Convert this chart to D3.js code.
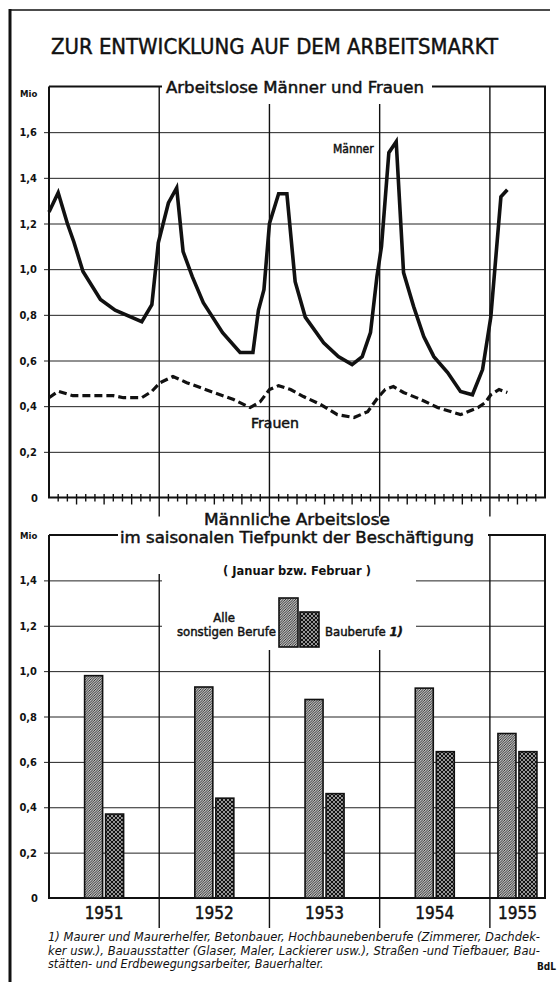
<!DOCTYPE html>
<html>
<head>
<meta charset="utf-8">
<script src="https://cdn.jsdelivr.net/npm/d3@7"></script>
<style>
  body { margin: 0; background: #fff; }
  text { font-family: "DejaVu Sans Condensed", "DejaVu Sans", sans-serif; fill: #111; }
  .medium { stroke: #111; stroke-width: 0.45px; }
</style>
</head>
<body>
<div id="chart"></div>
<script>
// top chart: months counted from January 1951
var menMonth = [0,1,2,2.7,3.7,5.6,7.2,10.1,11.2,11.9,13,13.9,14.6,15.6,16.8,18.9,20.8,22.2,22.8,23.4,24,25,25.9,26.8,27.9,29.9,31.5,33,34.1,35,35.7,36.2,37,37.8,38.6,39.7,40.8,41.9,43.4,44.8,46.1,47.2,48.1,49.2,49.9];
var menValue = [1.25,1.335,1.2,1.12,0.99,0.867,0.82,0.77,0.845,1.115,1.29,1.356,1.077,0.967,0.853,0.722,0.635,0.635,0.82,0.91,1.2,1.33,1.33,0.945,0.79,0.678,0.617,0.582,0.617,0.722,0.967,1.1,1.51,1.558,0.985,0.836,0.705,0.617,0.547,0.464,0.45,0.56,0.79,1.317,1.348];
var womenMonth = [0,1,2.6,5.6,7,8.1,10.1,11.2,12.1,13.5,15,17.9,20.1,21.9,23,24,25,26.3,27.7,29.6,31.4,33.2,34.7,35.8,36.6,37.5,38.6,40.5,42.3,44.8,46.7,47.5,48.1,49,49.9];
var womenValue = [0.437,0.465,0.446,0.446,0.446,0.437,0.437,0.465,0.503,0.53,0.503,0.46,0.429,0.394,0.42,0.473,0.49,0.473,0.442,0.407,0.363,0.35,0.376,0.437,0.473,0.486,0.46,0.429,0.394,0.363,0.394,0.416,0.45,0.473,0.46];
var topTicks = [0, 0.2, 0.4, 0.6, 0.8, 1.0, 1.2, 1.4, 1.6];

// bottom chart
var years = ["1951", "1952", "1953", "1954", "1955"];
var otherJobs = [0.98, 0.93, 0.875, 0.925, 0.725];
var buildJobs = [0.37, 0.44, 0.46, 0.645, 0.645];
var bottomTicks = [0, 0.2, 0.4, 0.6, 0.8, 1.0, 1.2, 1.4];

var footnote = [
  "1) Maurer und  Maurerhelfer, Betonbauer, Hochbaunebenberufe (Zimmerer, Dachdek-",
  "ker usw.), Bauausstatter (Glaser, Maler, Lackierer usw.), Straßen -und Tiefbauer, Bau-",
  "stätten- und  Erdbewegungsarbeiter, Bauerhalter."
];

var width = 559, height = 982;
var left = 49, right = 545;

var svg = d3.select("#chart")
  .append("svg")
    .attr("width", width)
    .attr("height", height);

var defs = svg.append("defs");
var hatch = defs.append("pattern")
    .attr("id", "hatch")
    .attr("patternUnits", "userSpaceOnUse")
    .attr("width", 2.5).attr("height", 2.5);
hatch.append("rect").attr("width", 2.5).attr("height", 2.5).attr("fill", "#fff");
hatch.append("path")
    .attr("d", "M-1,1 l2,-2 M0,2.5 l2.5,-2.5 M1.5,3.5 l2,-2")
    .attr("stroke", "#111").attr("stroke-width", 0.9);

var cross = defs.append("pattern")
    .attr("id", "cross")
    .attr("patternUnits", "userSpaceOnUse")
    .attr("width", 4).attr("height", 4);
cross.append("rect").attr("width", 4).attr("height", 4).attr("fill", "#111");
cross.append("path")
    .attr("d", "M2,0.9 l1.1,1.1 l-1.1,1.1 l-1.1,-1.1z M0,-1.1 l1.1,1.1 l-1.1,1.1 l-1.1,-1.1z M4,-1.1 l1.1,1.1 l-1.1,1.1 l-1.1,-1.1z M0,2.9 l1.1,1.1 l-1.1,1.1 l-1.1,-1.1z M4,2.9 l1.1,1.1 l-1.1,1.1 l-1.1,-1.1z")
    .attr("fill", "#fff");

var commaFmt = function(d) { return d === 0 ? "0" : d3.format(".1f")(d).replace(".", ","); };

// outer frame
svg.append("line").attr("x1", 10).attr("x2", 10).attr("y1", 9).attr("y2", height)
  .attr("stroke", "#111").attr("stroke-width", 3);
svg.append("line").attr("x1", 9).attr("x2", 550).attr("y1", 10).attr("y2", 10)
  .attr("stroke", "#111").attr("stroke-width", 1.6);

svg.append("text")
  .attr("class", "medium")
  .attr("x", 51).attr("y", 54)
  .attr("textLength", 447).attr("lengthAdjust", "spacingAndGlyphs")
  .style("font-size", "22px")
  .text("ZUR ENTWICKLUNG AUF DEM ARBEITSMARKT");

var x = d3.scaleLinear().domain([0, 54]).range([left, right]);
var yearBounds = [12, 24, 36, 48];

// ---------- top chart ----------
var yTop = d3.scaleLinear().domain([0, 1.8]).range([497.5, 86.5]);
var gTop = svg.append("g");

gTop.append("g")
  .attr("transform", "translate(44,0)")
  .call(d3.axisLeft(yTop).tickValues(topTicks.slice(1)).tickSize(-(right - 44)).tickPadding(7).tickFormat(commaFmt))
  .call(g => g.select(".domain").remove())
  .call(g => g.selectAll("line").attr("stroke", "#222").attr("stroke-width", 1))
  .call(g => g.selectAll("text").style("font-size", "11px").style("font-weight", "bold").attr("fill", "#111"));
gTop.append("text").attr("x", 38).attr("y", yTop(0) + 4).attr("text-anchor", "end")
  .style("font-size", "11px").style("font-weight", "bold").text("0");
gTop.append("text").attr("x", 20).attr("y", 97)
  .style("font-size", "9.5px").style("font-weight", "bold").text("Mio");

// month ticks
var months = d3.range(1, 54).filter(m => m % 12 !== 0);
gTop.selectAll(".mtick")
  .data(months)
  .enter()
  .append("line")
    .attr("x1", d => x(d)).attr("x2", d => x(d))
    .attr("y1", yTop(0) - 3.5)
    .attr("y2", d => yTop(0) + (d % 3 === 0 ? 7 : 4))
    .attr("stroke", "#111").attr("stroke-width", 1.4);

gTop.selectAll(".ygrid")
  .data(yearBounds)
  .enter()
  .append("line")
    .attr("x1", d => x(d)).attr("x2", d => x(d))
    .attr("y1", yTop(1.8)).attr("y2", yTop(0) + 19)
    .attr("stroke", "#111").attr("stroke-width", 1.4);

// frame of the top chart
gTop.append("path")
  .attr("d", d3.line()([[x(0), yTop(1.8)], [x(0), yTop(0)], [x(54), yTop(0)], [x(54), yTop(1.8)], [x(0), yTop(1.8)]]))
  .attr("fill", "none").attr("stroke", "#111").attr("stroke-width", 2);

gTop.append("rect").attr("x", 162).attr("y", 76).attr("width", 270).attr("height", 28).attr("fill", "#fff");
gTop.append("text")
  .attr("class", "medium")
  .attr("x", 166).attr("y", 93)
  .attr("textLength", 258).attr("lengthAdjust", "spacingAndGlyphs")
  .style("font-size", "16px")
  .text("Arbeitslose Männer und Frauen");

var line = d3.line().x(d => x(d[0])).y(d => yTop(d[1]));

gTop.append("path")
  .datum(womenMonth.map((m, i) => [m, womenValue[i]]))
  .attr("d", line)
  .attr("fill", "none").attr("stroke", "#111").attr("stroke-width", 3.2)
  .attr("stroke-dasharray", "8,4");

gTop.append("path")
  .datum(menMonth.map((m, i) => [m, menValue[i]]))
  .attr("d", line)
  .attr("fill", "none").attr("stroke", "#111").attr("stroke-width", 3.6)
  .attr("stroke-linejoin", "miter");

gTop.append("text").attr("class", "medium").attr("x", 333).attr("y", 153)
  .style("font-size", "12px").text("Männer");
gTop.append("text").attr("class", "medium").attr("x", 251).attr("y", 428)
  .attr("textLength", 48).attr("lengthAdjust", "spacingAndGlyphs")
  .style("font-size", "14px").text("Frauen");

// ---------- bottom chart ----------
var yBot = d3.scaleLinear().domain([0, 1.6]).range([898, 535]);
var gBot = svg.append("g");

gBot.append("g")
  .attr("transform", "translate(44,0)")
  .call(d3.axisLeft(yBot).tickValues(bottomTicks.slice(1)).tickSize(-(right - 44)).tickPadding(7).tickFormat(commaFmt))
  .call(g => g.select(".domain").remove())
  .call(g => g.selectAll("line").attr("stroke", "#222").attr("stroke-width", 1))
  .call(g => g.selectAll("text").style("font-size", "11px").style("font-weight", "bold").attr("fill", "#111"));
gBot.append("text").attr("x", 38).attr("y", yBot(0) + 4).attr("text-anchor", "end")
  .style("font-size", "11px").style("font-weight", "bold").text("0");
gBot.append("text").attr("x", 20).attr("y", 539)
  .style("font-size", "9.5px").style("font-weight", "bold").text("Mio");

gBot.selectAll(".ygrid")
  .data(yearBounds)
  .enter()
  .append("line")
    .attr("x1", d => x(d)).attr("x2", d => x(d))
    .attr("y1", yBot(1.6)).attr("y2", yBot(0) + 30)
    .attr("stroke", "#111").attr("stroke-width", 1.4);

gBot.append("path")
  .attr("d", d3.line()([[x(0), yBot(1.6)], [x(0), yBot(0)], [x(54), yBot(0)], [x(54), yBot(1.6)], [x(0), yBot(1.6)]]))
  .attr("fill", "none").attr("stroke", "#111").attr("stroke-width", 2);

// white space for the headings and the legend
gBot.append("rect").attr("x", 118).attr("y", 524).attr("width", 370).attr("height", 50).attr("fill", "#fff");
gBot.append("rect").attr("x", 162).attr("y", 573).attr("width", 254).attr("height", 77).attr("fill", "#fff");

gBot.append("text").attr("class", "medium").attr("x", 297).attr("y", 525).attr("text-anchor", "middle")
  .attr("textLength", 186).attr("lengthAdjust", "spacingAndGlyphs")
  .style("font-size", "16px").text("Männliche Arbeitslose");
gBot.append("text").attr("class", "medium").attr("x", 297).attr("y", 543).attr("text-anchor", "middle")
  .attr("textLength", 354).attr("lengthAdjust", "spacingAndGlyphs")
  .style("font-size", "16px").text("im saisonalen Tiefpunkt der Beschäftigung");
gBot.append("text").attr("x", 297).attr("y", 575).attr("text-anchor", "middle")
  .attr("textLength", 148).attr("lengthAdjust", "spacingAndGlyphs")
  .style("font-size", "12px").style("font-weight", "bold").text("( Januar  bzw. Februar )");

// legend
gBot.append("rect").attr("x", 279).attr("y", 598).attr("width", 19).attr("height", 49)
  .attr("fill", "url(#hatch)").attr("stroke", "#111").attr("stroke-width", 1.6);
gBot.append("rect").attr("x", 300).attr("y", 612).attr("width", 19).attr("height", 35)
  .attr("fill", "url(#cross)").attr("stroke", "#111").attr("stroke-width", 1.6);
gBot.append("text").attr("class", "medium").attr("x", 224).attr("y", 622).attr("text-anchor", "middle")
  .style("font-size", "13px").text("Alle");
gBot.append("text").attr("class", "medium").attr("x", 276).attr("y", 636).attr("text-anchor", "end")
  .style("font-size", "13px").text("sonstigen Berufe");
gBot.append("text").attr("class", "medium").attr("x", 325).attr("y", 636)
  .style("font-size", "13px").text("Bauberufe ")
  .append("tspan").style("font-style", "italic").style("font-weight", "bold").text("1)");

// bars
var yearCenter = function(i) { return x((i * 12 + Math.min(i * 12 + 12, 54)) / 2); };
var barW = 18;

gBot.selectAll(".other")
  .data(otherJobs)
  .enter()
  .append("rect")
    .attr("x", (d, i) => yearCenter(i) - barW - 1.5)
    .attr("y", d => yBot(d))
    .attr("width", barW)
    .attr("height", d => yBot(0) - yBot(d))
    .attr("fill", "url(#hatch)").attr("stroke", "#111").attr("stroke-width", 1.6);

gBot.selectAll(".build")
  .data(buildJobs)
  .enter()
  .append("rect")
    .attr("x", (d, i) => yearCenter(i) + 1.5)
    .attr("y", d => yBot(d))
    .attr("width", barW)
    .attr("height", d => yBot(0) - yBot(d))
    .attr("fill", "url(#cross)").attr("stroke", "#111").attr("stroke-width", 1.6);

gBot.selectAll(".yearLabel")
  .data(years)
  .enter()
  .append("text")
    .attr("class", "medium")
    .attr("x", (d, i) => yearCenter(i))
    .attr("y", yBot(0) + 21)
    .attr("text-anchor", "middle")
    .style("font-size", "17px")
    .text(d => d);

// footnote
svg.selectAll(".foot")
  .data(footnote)
  .enter()
  .append("text")
    .attr("x", 48)
    .attr("y", (d, i) => 941 + i * 13.5)
    .attr("textLength", (d, i) => i < 2 ? 492 : null)
    .attr("lengthAdjust", "spacingAndGlyphs")
    .style("font-size", "12.5px").style("font-style", "italic")
    .text(d => d);

svg.append("text").attr("x", 537).attr("y", 970)
  .style("font-size", "10px").style("font-weight", "bold").text("BdL");
</script>
</body>
</html>
